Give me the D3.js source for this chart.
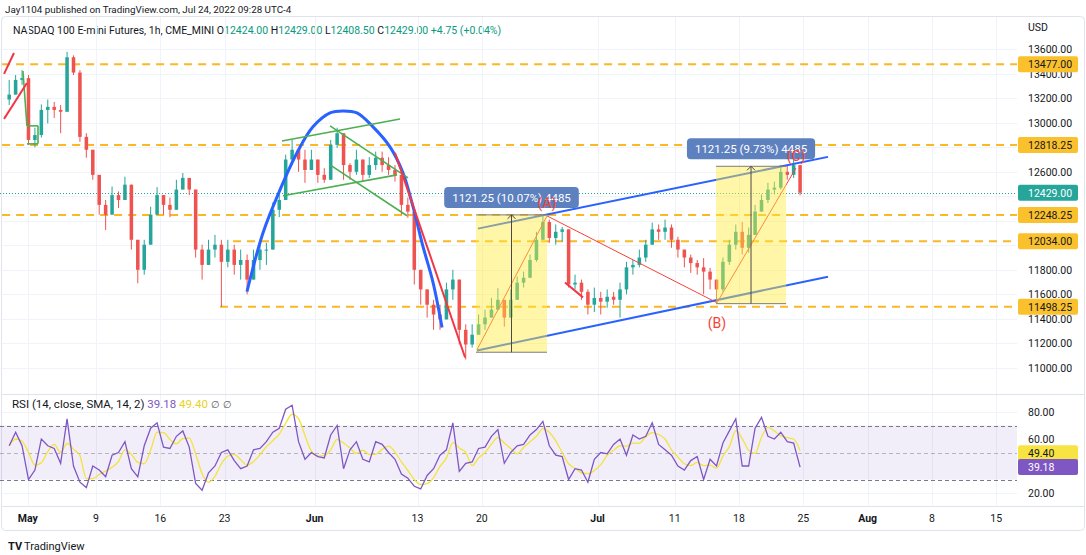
<!DOCTYPE html>
<html>
<head>
<meta charset="utf-8">
<script src="https://cdn.jsdelivr.net/npm/d3@7"></script>
<style>
  body { margin: 0; background: #fff; }
  svg { display: block; font-family: Roboto, "Noto Sans", sans-serif; }
</style>
</head>
<body>
<div id="chart"></div>
<script>
// ---- data (weekday index: Mon May 2 = 0, two bars per trading day) ----
const firstDay = -2;
const barStep = 0.5;
const firstOpen = 13190;
const closes = [13230,13350,13365,12860,12900,13105,13130,13105,13090,13535,13410,12885,12780,12575,12330,12250,12410,12370,12495,12045,
  11800,12005,12250,12410,12330,12290,12455,12550,12455,11965,11840,11965,12005,11865,11965,11840,11880,11720,11880,11965,
  11965,12290,12370,12700,12780,12700,12615,12700,12575,12535,12820,12915,12655,12600,12700,12575,12655,12715,12655,12615,
  12575,12330,12275,11800,11640,11515,11435,11395,11640,11720,11310,11190,11270,11355,11410,11475,11555,11410,11555,11695,
  11735,11880,12045,12190,12060,12110,12130,11680,11695,11620,11515,11570,11540,11580,11555,11640,11820,11840,11900,12005,
  12130,12110,12145,12045,11965,11900,11855,11820,11785,11720,11640,11865,12005,12110,11980,12085,12275,12370,12455,12470,
  12600,12575,12655,12429];
const highs = [13350,13390,13430,13390,12960,13150,13190,13170,13145,13580,13550,13430,12915,12670,12495,12370,12480,12440,12560,12495,
  12045,12045,12315,12475,12410,12390,12535,12590,12550,12455,12005,12045,12085,12045,12045,12005,11965,11925,11965,12045,
  12020,12350,12455,12740,12860,12780,12780,12780,12655,12630,12860,12960,12860,12670,12780,12700,12720,12765,12765,12720,
  12655,12575,12390,12275,11760,11640,11555,11515,11695,11800,11720,11355,11355,11435,11475,11570,11650,11555,11640,11745,
  11785,11925,12110,12240,12210,12170,12150,12130,11760,11720,11640,11655,11620,11640,11620,11695,11865,11880,11965,12045,
  12185,12170,12210,12170,12070,11965,11925,11880,11895,11815,11720,11900,12045,12170,12190,12145,12330,12415,12510,12520,
  12655,12650,12700,12655];
const lows = [13145,13270,13310,12820,12800,12880,12995,13040,12915,13090,13390,12845,12715,12535,12250,12125,12250,12305,12390,11965,
  11690,11760,12110,12290,12250,12230,12330,12480,12410,11900,11720,11865,11900,11498,11820,11760,11720,11600,11720,11800,
  11840,11965,12230,12410,12655,12600,12510,12615,12510,12510,12535,12795,12535,12535,12575,12520,12550,12615,12600,12575,
  12520,12250,12225,11680,11515,11410,11310,11310,11435,11555,11190,11068,11165,11270,11310,11410,11475,11335,11435,11600,
  11655,11760,11865,12045,12020,12005,12030,11655,11640,11555,11435,11455,11435,11490,11515,11410,11600,11760,11820,11865,
  12045,12045,12045,11980,11900,11820,11775,11760,11600,11640,11530,11620,11840,11965,11925,11940,12085,12290,12345,12415,
  12455,12535,12550,12408];
const rsi = [55,65,55,30,37,60,55,53,42,75,40,28,24,40,37,32,48,50,58,38,
  32,55,68,72,54,53,62,66,54,27,22,35,40,50,52,44,38,40,52,53,
  58,65,68,82,85,58,45,50,47,46,63,70,38,52,58,45,43,58,56,50,
  45,34,31,25,23,33,38,48,52,72,36,42,43,53,54,62,67,42,50,55,
  56,63,67,73,55,48,47,30,38,37,28,45,50,49,56,60,48,63,60,62,
  72,56,52,48,40,37,44,47,30,45,40,57,66,75,40,40,68,76,62,60,
  65,58,57,39.18];
const smaLen = 3;

const priceTicks = [11000,11200,11400,11600,11800,13000,13200,13400,13600,12600];
const rsiTicks = [20,60,80];
const timeLabels = ["May","9","16","23","Jun","13","20","Jul","11","18","25","Aug","8","15"];
const timeDays = [-0.3,5,10,15,22,30,35,44,50,55,60,65,70,75];
const monthLabels = ["May","Jun","Jul","Aug"];
const gridPrices = [11000,11200,11400,11600,11800,12000,12200,12400,12600,12800,13000,13200,13400,13600];

const levelPrices = [13477, 12818.25, 12248.25, 12034, 11498.25];
const levelFrom = [-2.3, -2.3, -2.3, 15.65, 14.64];
const lastPrice = 12429;
const rsiLast = 39.18, smaLast = 49.40;

const arcPts = [[16.74,11622],[17.99,12103],[19.31,12453],[20.63,12755],[21.87,12967],[23.2,13081],[24.21,13097],
  [25.29,13081],[26.54,12967],[27.86,12804],[28.87,12592],[29.65,12315],[30.43,11989],[31.21,11696],[31.91,11329]];
const greenLines = [
  [[19.46,12852],[28.64,13031]], [[19.54,12404],[28.41,12575]],
  [[23.2,12975],[29.26,12551]], [[23.2,12657],[29.18,12241]],
  [[-0.68,13423],[-0.37,12975]], [[-0.37,12975],[0.49,12975]],
  [[-0.37,12828],[0.49,12828]], [[0.49,12975],[0.49,12828]]
];
const redLines = [
  [[-2.15,13399],[-1.38,13570]], [[-2.15,13032],[-0.37,13325]],
  [[28.25,12755],[33.7,11084]], [[41.47,11697],[42.87,11575]]
];
const wavePts = [[34.63,11148],[40.07,12240],[53.29,11531],[59.43,12631]];
const waveNames = ["(A)","(B)","(C)"];
const channelLines = [[[34.7,12136],[61.92,12722]], [[34.63,11141],[61.92,11744]]];
const rangeFrom = [34.55, 53.21], rangeTo = [40.07, 58.66];
const rangeLow = [11127, 11523.75], rangeHigh = [12248.25, 12645];
const rangeText = ["1121.25 (10.07%) 4485", "1121.25 (9.73%) 4485"];

// ---- layout ----
const W = 1086, H = 555;
const plotR = 1017, mainTop = 17, mainBot = 394, rsiTop = 395, rsiBot = 506, axisBot = 531;
const up = "#26a69a", down = "#ef5350", orange = "#f9b824", gridC = "#f0f3fa", textC = "#131722";

const x = d3.scaleLinear().domain([5, 55]).range([96, 739]);
const y = d3.scaleLinear().domain([11000, 13600]).range([367.8, 49.3]);
const yr = d3.scaleLinear().domain([20, 80]).range([493, 412]);

const svg = d3.select('#chart').append('svg').attr('width', W).attr('height', H);
const defs = svg.append('defs');
defs.append('clipPath').attr('id', 'cm').append('rect').attr('x', 0).attr('y', mainTop).attr('width', plotR).attr('height', mainBot - mainTop);
defs.append('clipPath').attr('id', 'cr').append('rect').attr('x', 0).attr('y', rsiTop).attr('width', plotR).attr('height', rsiBot - rsiTop);

// frame
svg.append('rect').attr('x', 1.5).attr('y', mainTop - 0.5).attr('width', W - 3).attr('height', axisBot - mainTop)
  .attr('rx', 4).attr('fill', 'none').attr('stroke', '#e0e3eb');
svg.append('line').attr('x1', 2).attr('x2', W - 2).attr('y1', mainBot + 0.5).attr('y2', mainBot + 0.5).attr('stroke', '#e0e3eb');
svg.append('line').attr('x1', 2).attr('x2', W - 2).attr('y1', rsiBot + 0.5).attr('y2', rsiBot + 0.5).attr('stroke', '#e0e3eb');

// header
svg.append('text').attr('x', 5).attr('y', 13).attr('font-size', 9.8).attr('fill', textC)
  .text('Jay1104 published on TradingView.com, Jul 24, 2022 09:28 UTC-4');
const hdr = svg.append('text').attr('x', 13).attr('y', 34).attr('font-size', 10.5).attr('fill', textC);
hdr.append('tspan').text('NASDAQ 100 E-mini Futures, 1h, CME_MINI  ');
[['O', '12424.00'], ['H', '12429.00'], ['L', '12408.50'], ['C', '12429.00']].forEach(([k, v]) => {
  hdr.append('tspan').attr('fill', textC).text(k);
  hdr.append('tspan').attr('fill', '#089981').text(v + '  ');
});
hdr.append('tspan').attr('fill', '#089981').text('+4.75 (+0.04%)');

// grid
const main = svg.append('g').attr('clip-path', 'url(#cm)');
const rsiG = svg.append('g').attr('clip-path', 'url(#cr)');
main.selectAll('.hg').data(gridPrices).join('line')
  .attr('x1', 0).attr('x2', plotR).attr('y1', d => Math.round(y(d)) + 0.5).attr('y2', d => Math.round(y(d)) + 0.5)
  .attr('stroke', gridC);
[main, rsiG].forEach(g => g.selectAll('.vg').data(timeDays).join('line')
  .attr('x1', d => Math.round(x(d)) + 0.5).attr('x2', d => Math.round(x(d)) + 0.5)
  .attr('y1', mainTop).attr('y2', rsiBot).attr('stroke', gridC));
rsiG.selectAll('.rg').data([20, 80]).join('line')
  .attr('x1', 0).attr('x2', plotR).attr('y1', d => Math.round(yr(d)) + 0.5).attr('y2', d => Math.round(yr(d)) + 0.5)
  .attr('stroke', gridC);

// level lines
main.selectAll('.lvl').data(levelPrices).join('line')
  .attr('x1', (d, i) => x(levelFrom[i])).attr('x2', plotR)
  .attr('y1', d => y(d)).attr('y2', d => y(d))
  .attr('stroke', orange).attr('stroke-width', 2).attr('stroke-dasharray', '8,6');

// last price line
main.append('line').attr('x1', 0).attr('x2', plotR).attr('y1', Math.round(y(lastPrice)) + 0.5).attr('y2', Math.round(y(lastPrice)) + 0.5)
  .attr('stroke', up).attr('stroke-dasharray', '1,2');

// candles
const bars = closes.map((c, i) => {
  const o = i === 0 ? firstOpen : closes[i - 1];
  return { d: firstDay + barStep * (i + 0.5), o, c, h: Math.max(highs[i], o, c), l: Math.min(lows[i], o, c) };
});
const bw = (x(barStep) - x(0)) * 0.55;
const cg = main.append('g');
cg.selectAll('.wick').data(bars).join('line')
  .attr('x1', d => x(d.d)).attr('x2', d => x(d.d)).attr('y1', d => y(d.h)).attr('y2', d => y(d.l))
  .attr('stroke', d => d.c >= d.o ? up : down).attr('stroke-width', 1);
cg.selectAll('.body').data(bars).join('rect')
  .attr('x', d => x(d.d) - bw / 2).attr('width', bw)
  .attr('y', d => y(Math.max(d.o, d.c))).attr('height', d => Math.max(1, Math.abs(y(d.o) - y(d.c))))
  .attr('fill', d => d.c >= d.o ? up : down);

// drawings
const line = d3.line().x(d => x(d[0])).y(d => y(d[1]));
main.append('path').datum(arcPts).attr('d', line.curve(d3.curveCatmullRom)).attr('fill', 'none')
  .attr('stroke', '#2962ff').attr('stroke-width', 3);
line.curve(d3.curveLinear);
main.selectAll('.gl').data(greenLines).join('path').attr('d', line).attr('fill', 'none')
  .attr('stroke', '#4caf50').attr('stroke-width', 1.6);
main.selectAll('.rl').data(redLines).join('path').attr('d', line).attr('fill', 'none')
  .attr('stroke', '#f23645').attr('stroke-width', 2);
main.selectAll('.cl').data(channelLines).join('path').attr('d', line).attr('fill', 'none')
  .attr('stroke', '#2962ff').attr('stroke-width', 2);
main.append('path').datum(wavePts).attr('d', line).attr('fill', 'none')
  .attr('stroke', '#f44336').attr('stroke-width', 1);

// price range boxes
rangeFrom.forEach((f, i) => {
  const x0 = x(f), x1 = x(rangeTo[i]), yt = y(rangeHigh[i]), yb = y(rangeLow[i]);
  const xm = (x0 + x1) / 2;
  main.append('rect').attr('x', x0).attr('y', yt).attr('width', x1 - x0).attr('height', yb - yt)
    .attr('fill', 'rgba(255,235,59,0.45)');
  main.append('line').attr('x1', x0).attr('x2', x1).attr('y1', yt).attr('y2', yt).attr('stroke', '#7c7c7c');
  main.append('line').attr('x1', x0).attr('x2', x1).attr('y1', yb).attr('y2', yb).attr('stroke', '#7c7c7c');
  main.append('line').attr('x1', xm).attr('x2', xm).attr('y1', yb).attr('y2', yt).attr('stroke', '#4a4a4a');
  main.append('path').attr('d', `M${xm - 4},${yt + 4}L${xm},${yt}L${xm + 4},${yt + 4}`).attr('fill', 'none').attr('stroke', '#4a4a4a');
  const lg = main.append('g');
  const t = lg.append('text').attr('x', xm).attr('y', yt - 13).attr('text-anchor', 'middle').attr('font-size', 11.5)
    .attr('fill', '#fff').text(rangeText[i]);
  const tw = t.node().getComputedTextLength();
  lg.insert('rect', 'text').attr('x', xm - tw / 2 - 8).attr('y', yt - 28).attr('width', tw + 16).attr('height', 21)
    .attr('rx', 4).attr('fill', '#5d80bf');
});

// wave labels
const waveOff = [-13, 20, -12];
waveNames.forEach((n, i) => {
  main.append('text').attr('x', x(wavePts[i + 1][0])).attr('y', y(wavePts[i + 1][1]) + waveOff[i] + 5)
    .attr('text-anchor', 'middle').attr('font-size', 14).attr('fill', '#f44336').text(n);
});

// RSI pane
rsiG.append('rect').attr('x', 0).attr('width', plotR).attr('y', yr(70)).attr('height', yr(30) - yr(70))
  .attr('fill', 'rgba(126,87,194,0.1)');
[70, 50, 30].forEach(v => rsiG.append('line').attr('x1', 0).attr('x2', plotR)
  .attr('y1', Math.round(yr(v)) + 0.5).attr('y2', Math.round(yr(v)) + 0.5)
  .attr('stroke', '#787b86').attr('stroke-opacity', v === 50 ? 0.5 : 1).attr('stroke-dasharray', '4,3'));
const sma = rsi.map((v, i) => d3.mean(rsi.slice(Math.max(0, i - smaLen + 1), i + 1)));
const rline = d3.line().x((d, i) => x(firstDay + barStep * (i + 0.5))).y(d => yr(d));
rsiG.append('path').datum(sma).attr('d', rline.curve(d3.curveMonotoneX)).attr('fill', 'none')
  .attr('stroke', '#f5e23a').attr('stroke-width', 1.3);
rsiG.append('path').datum(rsi).attr('d', rline.curve(d3.curveLinear)).attr('fill', 'none')
  .attr('stroke', '#7e57c2').attr('stroke-width', 1.3);

const rh = svg.append('text').attr('x', 12).attr('y', 408).attr('font-size', 11.5).attr('fill', textC);
rh.append('tspan').text('RSI (14, close, SMA, 14, 2) ');
rh.append('tspan').attr('fill', '#7e57c2').text(rsiLast.toFixed(2) + ' ');
rh.append('tspan').attr('fill', '#e8d326').text(smaLast.toFixed(2) + ' ');
rh.append('tspan').attr('fill', '#555').attr('font-family', 'DejaVu Sans').attr('font-size', 10).text('∅ ∅');

// price axis
const ax = svg.append('g').attr('font-size', 10.5).attr('fill', textC);
ax.append('text').attr('x', 1028).attr('y', 31).text('USD');
ax.selectAll('.pt').data(priceTicks).join('text').attr('x', 1028).attr('y', d => y(d) + 4)
  .text(d => d.toFixed(2));
ax.selectAll('.rt').data(rsiTicks).join('text').attr('x', 1028).attr('y', d => yr(d) + 4)
  .text(d => d.toFixed(2));

function tag(v, yy, bg, fg) {
  ax.append('rect').attr('x', 1018).attr('y', yy - 8).attr('width', 60).attr('height', 16).attr('rx', 2).attr('fill', bg);
  ax.append('text').attr('x', 1028).attr('y', yy + 4).attr('fill', fg).text(v.toFixed(2));
}
levelPrices.forEach(p => tag(p, y(p), '#fbc12d', textC));
tag(lastPrice, y(lastPrice), up, '#fff');
tag(smaLast, yr(smaLast), '#f7e443', textC);
tag(rsiLast, yr(rsiLast), '#7e57c2', '#fff');

// time axis
svg.append('g').selectAll('text').data(timeLabels).join('text')
  .attr('x', (d, i) => x(timeDays[i])).attr('y', 522).attr('text-anchor', 'middle')
  .attr('font-size', 10.5).attr('fill', textC)
  .attr('font-weight', d => monthLabels.includes(d) ? 'bold' : null).text(d => d);

// footer
const ft = svg.append('g').attr('transform', 'translate(8,540)');
ft.append('text').attr('x', 0).attr('y', 10).attr('font-size', 11).attr('font-weight', 'bold').attr('fill', textC).text('TV');
ft.append('text').attr('x', 16).attr('y', 10).attr('font-size', 11).attr('fill', textC).text('TradingView');
</script>
</body>
</html>
